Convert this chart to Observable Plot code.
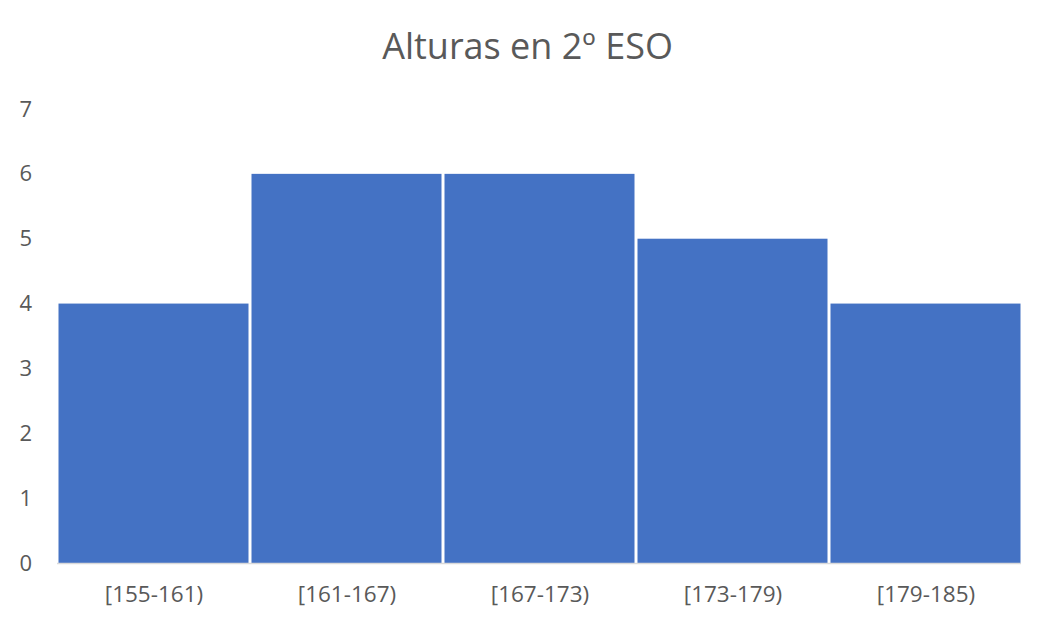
<!DOCTYPE html>
<html>
<head>
<meta charset="utf-8">
<script src="https://cdn.jsdelivr.net/npm/d3@7"></script>
<script src="https://cdn.jsdelivr.net/npm/@observablehq/plot@0.6"></script>
<style>
body { margin: 0; background: #fff; }
#chart svg { display: block; }
</style>
</head>
<body>
<div id="chart"></div>
<script>
const title = "Alturas en 2º ESO";
const categories = ["[155-161)", "[161-167)", "[167-173)", "[173-179)", "[179-185)"];
const counts = [4, 6, 6, 5, 4];
const yTicks = [0, 1, 2, 3, 4, 5, 6, 7];

const data = categories.map((c, i) => ({ cat: c, n: counts[i] }));

const chart = Plot.plot({
  width: 1051,
  height: 629,
  marginLeft: 55.5,
  marginRight: 28.5,
  marginTop: 109,
  marginBottom: 66,
  style: { fontFamily: "'Open Sans', sans-serif", color: "#595959", background: "#fff" },
  x: { domain: categories, padding: 0, label: null },
  y: { domain: [0, 7], label: null },
  marks: [
    Plot.barY(data, { x: "cat", y: "n", fill: "#4472C4", insetLeft: 1.5, insetRight: 1.5 }),
    Plot.ruleY([0], { stroke: "#d9d9d9", strokeWidth: 1.5, insetLeft: 1.5, insetRight: 1.5 }),
    Plot.axisY(yTicks, { tickSize: 0, tickPadding: 24, fontSize: 22, fill: "#595959", label: null, tickFormat: "d" }),
    Plot.axisX({ tickSize: 0, tickPadding: 23, fontSize: 22.5, fill: "#595959", label: null }),
    Plot.text([title], { frameAnchor: "top", lineAnchor: "middle", dy: -62, dx: -12, fontSize: 36, fill: "#595959" })
  ]
});
document.getElementById("chart").appendChild(chart);
</script>
</body>
</html>
